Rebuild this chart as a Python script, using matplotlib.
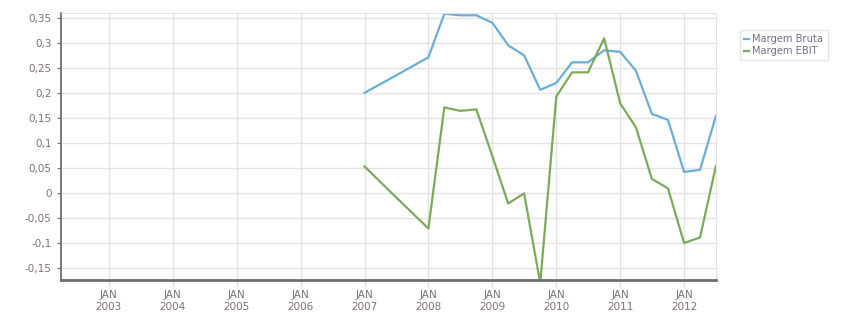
import datetime as dt
import matplotlib
matplotlib.use("Agg")
import matplotlib.pyplot as plt
from matplotlib.ticker import FuncFormatter, MultipleLocator

# quarterly dates (2007 only partial)
dates = ["2007-01", "2007-07", "2008-01", "2008-04", "2008-07", "2008-10",
         "2009-01", "2009-04", "2009-07", "2009-10", "2010-01", "2010-04",
         "2010-07", "2010-10", "2011-01", "2011-04", "2011-07", "2011-10",
         "2012-01", "2012-04", "2012-07"]
margem_bruta = [0.200, 0.235, 0.271, 0.358, 0.355, 0.355,
                0.340, 0.295, 0.275, 0.206, 0.220, 0.261,
                0.261, 0.285, 0.282, 0.244, 0.158, 0.146,
                0.042, 0.046, 0.154]
margem_ebit = [0.053, -0.009, -0.071, 0.171, 0.164, 0.167,
               0.073, -0.021, -0.001, -0.180, 0.193, 0.241,
               0.241, 0.309, 0.179, 0.131, 0.028, 0.009,
               -0.100, -0.089, 0.054]
anos = list(range(2003, 2013))

x = [dt.datetime.strptime(d, "%Y-%m") for d in dates]

fig = plt.figure(figsize=(8.51, 3.13), dpi=100)
ax = fig.add_axes([0.0713, 0.1054, 0.7700, 0.8521])

ax.plot(x, margem_bruta, color="#6aaed6", lw=1.6, label="Margem Bruta")
ax.plot(x, margem_ebit, color="#7aaa5a", lw=1.6, label="Margem EBIT")

ax.set_xlim(dt.datetime(2002, 4, 1), dt.datetime(2012, 7, 1))
ax.set_ylim(-0.174, 0.359)

ax.set_xticks([dt.datetime(a, 1, 1) for a in anos])
ax.set_xticklabels(["JAN\n%d" % a for a in anos], linespacing=1.3)
ax.yaxis.set_major_locator(MultipleLocator(0.05))
ax.yaxis.set_major_formatter(FuncFormatter(lambda v, p: ("%g" % round(v, 2)).replace(".", ",")))

ax.grid(True, color="#e2e2e2", lw=1)
ax.set_axisbelow(True)
ax.tick_params(axis="x", colors="#e2e2e2", labelcolor="#7d7070", labelsize=7.5, length=5, width=1, pad=2)
ax.tick_params(axis="y", colors="#7d7070", labelcolor="#7d7070", labelsize=7.5, length=3, width=0.8)

for s in ["top", "right"]:
    ax.spines[s].set_color("#e2e2e2")
ax.spines["left"].set_color("#6d6d6d")
ax.spines["left"].set_linewidth(1.3)
ax.spines["bottom"].set_color("#6d6d6d")
ax.spines["bottom"].set_linewidth(2)

leg = ax.legend(loc="upper left", bbox_to_anchor=(0.869, 0.904), bbox_transform=fig.transFigure,
                fontsize=7.1, handlelength=0.5, handletextpad=0.35, labelspacing=0.15,
                borderpad=0.45, fancybox=False, frameon=True, borderaxespad=0)
leg.get_frame().set_edgecolor("#e0e0e0")
leg.get_frame().set_linewidth(1)
for t in leg.get_texts():
    t.set_color("#6e6e8a")

fig.savefig("out.png", dpi=100)
